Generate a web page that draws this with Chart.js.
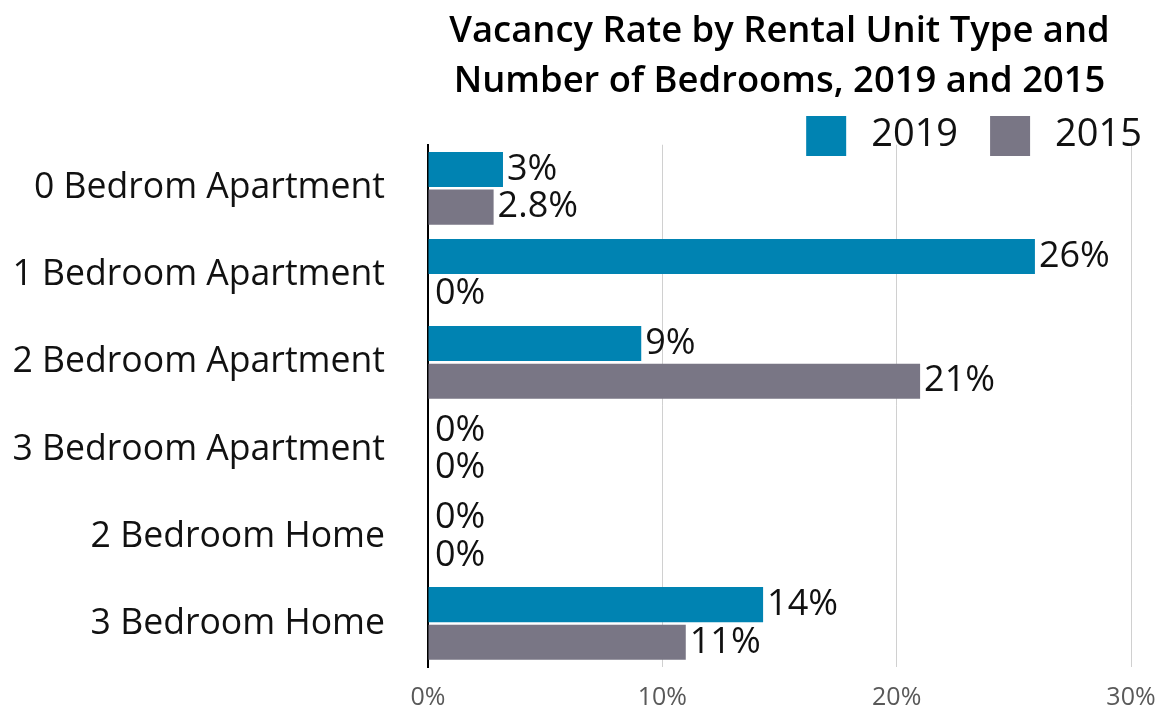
<!DOCTYPE html>
<html>
<head>
<meta charset="utf-8">
<script src="https://cdn.jsdelivr.net/npm/chart.js@4/dist/chart.umd.min.js"></script>
<style>
  html, body { margin: 0; padding: 0; background: #fff; }
  #wrap { width: 1159px; height: 707px; position: relative; }
</style>
</head>
<body>
<div id="wrap"><canvas id="chart"></canvas></div>
<script>
// Data
const categories = [
    '0 Bedrom Apartment',
    '1 Bedroom Apartment',
    '2 Bedroom Apartment',
    '3 Bedroom Apartment',
    '2 Bedroom Home',
    '3 Bedroom Home'
];
const values2019 = [3.2, 25.9, 9.1, 0, 0, 14.3];
const values2015 = [2.8, 0, 21.0, 0, 0, 11.0];
const xTicks = [0, 10, 20, 30];

const FONT = '"Open Sans", Lato, sans-serif';

// Format a value the way the source chart shows it
function fmt(v, decimals) {
    return parseFloat(v.toFixed(decimals)) + '%';
}

// Value labels at the end of each bar
const barLabels = {
    id: 'barLabels',
    afterDatasetsDraw(chart) {
        const ctx = chart.ctx;
        ctx.save();
        ctx.font = '36px ' + FONT;
        ctx.fillStyle = '#111111';
        ctx.textAlign = 'left';
        ctx.textBaseline = 'middle';
        chart.data.datasets.forEach((ds, i) => {
            const meta = chart.getDatasetMeta(i);
            meta.data.forEach((bar, j) => {
                const offset = ds.data[j] === 0 ? 7 : 4;
                ctx.fillText(fmt(ds.data[j], ds.decimals), bar.x + offset, bar.y);
            });
        });
        ctx.restore();
    }
};

// Legend drawn by hand, since it overlaps the top of the plot
const customLegend = {
    id: 'customLegend',
    afterDraw(chart) {
        const ctx = chart.ctx;
        ctx.save();
        ctx.font = '38px ' + FONT;
        ctx.textBaseline = 'middle';
        ctx.textAlign = 'left';
        const box = 40, gap = 25, itemGap = 32, yMid = 136;
        const items = chart.data.datasets.map(ds => ({
            text: ds.label, color: ds.backgroundColor, w: ctx.measureText(ds.label).width
        }));
        let total = 0;
        items.forEach((it, i) => { total += box + gap + it.w + (i ? itemGap : 0); });
        let x = 1142 - total;
        items.forEach(it => {
            ctx.fillStyle = it.color;
            ctx.fillRect(x, yMid - box / 2, box, box);
            ctx.fillStyle = '#111111';
            ctx.fillText(it.text, x + box + gap, yMid - 1);
            x += box + gap + it.w + itemGap;
        });
        ctx.restore();
    }
};

new Chart(document.getElementById('chart'), {
    type: 'bar',
    data: {
        labels: categories,
        datasets: [
            {
                label: '2019',
                data: values2019,
                decimals: 0,
                backgroundColor: '#0083B2',
                categoryPercentage: 0.866,
                barPercentage: 0.93
            },
            {
                label: '2015',
                data: values2015,
                decimals: 1,
                backgroundColor: '#797685',
                categoryPercentage: 0.866,
                barPercentage: 0.93
            }
        ]
    },
    options: {
        indexAxis: 'y',
        responsive: true,
        maintainAspectRatio: false,
        animation: false,
        layout: {
            padding: { left: 0, right: 28, top: 0, bottom: 0 }
        },
        scales: {
            x: {
                min: 0,
                max: 30,
                afterBuildTicks: scale => {
                    scale.ticks = xTicks.map(v => ({ value: v }));
                },
                afterFit: scale => { scale.height = 40; },
                ticks: {
                    padding: 0,
                    color: '#595959',
                    font: { family: FONT, size: 25 },
                    callback: v => v + '%'
                },
                grid: {
                    color: '#d0d0d0',
                    lineWidth: 1,
                    drawTicks: true,
                    tickLength: 16,
                    tickColor: 'rgba(0,0,0,0)'
                },
                border: { display: false }
            },
            y: {
                afterFit: scale => { scale.width = 428; },
                ticks: {
                    padding: 0,
                    color: '#111111',
                    font: { family: FONT, size: 35.6 }
                },
                grid: { display: false, drawTicks: true, tickLength: 43 },
                border: { display: true, color: '#000000', width: 2 }
            }
        },
        plugins: {
            legend: { display: false },
            tooltip: { enabled: false },
            title: {
                display: true,
                fullSize: false,
                text: ['Vacancy Rate by Rental Unit Type and', 'Number of Bedrooms, 2019 and 2015'],
                color: '#000000',
                font: { family: FONT, size: 36.4, weight: '600', lineHeight: 1.37 },
                padding: { top: 7, bottom: 38 }
            }
        }
    },
    plugins: [barLabels, customLegend]
});
</script>
</body>
</html>
